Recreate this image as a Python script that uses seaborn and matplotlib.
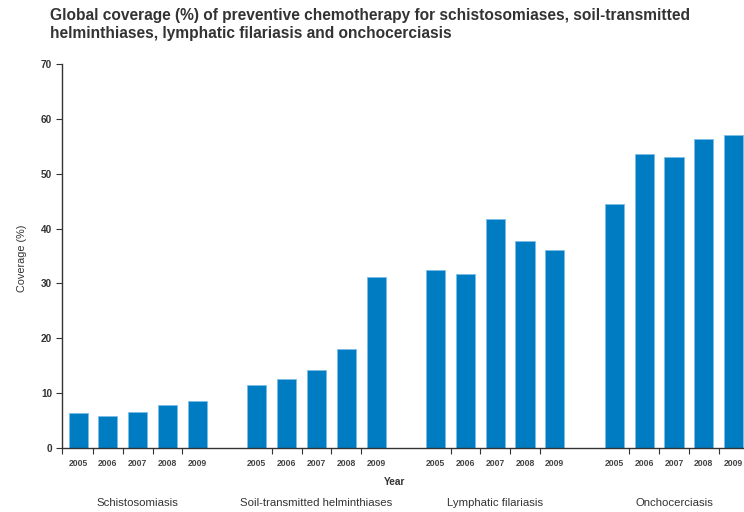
import numpy as np
import pandas as pd
import matplotlib
matplotlib.use("Agg")
import matplotlib.pyplot as plt
import seaborn as sns

diseases = ["Schistosomiasis", "Soil-transmitted helminthiases",
            "Lymphatic filariasis", "Onchocerciasis"]
years = ["2005", "2006", "2007", "2008", "2009"]
schisto = [6.3, 5.8, 6.5, 7.9, 8.6]
sth = [11.5, 12.6, 14.2, 18.0, 31.2]
lf = [32.4, 31.8, 41.8, 37.8, 36.1]
oncho = [44.5, 53.6, 53.1, 56.4, 57.1]
y_ticks = [0, 10, 20, 30, 40, 50, 60, 70]

title = ("Global coverage (%) of preventive chemotherapy for schistosomiases, soil-transmitted\n"
         "helminthiases, lymphatic filariasis and onchocerciasis")

rows = []
for gi, (d, vals) in enumerate(zip(diseases, [schisto, sth, lf, oncho])):
    for yi, (yr, v) in enumerate(zip(years, vals)):
        rows.append(dict(disease=d, year=yr, coverage=v, pos=gi * 6 + yi))
df = pd.DataFrame(rows)

sns.set_theme(style="white")
plt.rcParams["font.family"] = ["Liberation Sans", "DejaVu Sans"]

TXT = "#333333"
fig = plt.figure(figsize=(7.44, 5.12), dpi=100)
ax = fig.add_axes([62 / 744, 64 / 512, 682 / 744, 384 / 512])

sns.barplot(data=df, x="pos", y="coverage", native_scale=True, color="#007CC3",
            saturation=1, width=0.64, edgecolor="#7DBDE6", linewidth=0.6,
            errorbar=None, ax=ax)

xl = -0.54
ax.set_xlim(xl, 22.35)
ax.set_ylim(0, 70)
ax.set_yticks(y_ticks)
ax.set_yticklabels([str(t) for t in y_ticks], fontsize=7.2, fontweight="bold", color=TXT)
ax.tick_params(axis="y", direction="out", length=4, width=0.8, color=TXT, pad=3, left=True)

ax.set_xticks(df["pos"].tolist())
ax.set_xticklabels(df["year"].tolist(), fontsize=6.2, fontweight="bold", color="#444444")
ax.tick_params(axis="x", which="major", length=0, pad=8)
minor = [xl] + [gi * 6 + yi + 0.5 for gi in range(4) for yi in range(4)]
ax.set_xticks(minor, minor=True)
ax.tick_params(axis="x", which="minor", direction="out", length=4, width=0.8,
               color=TXT, bottom=True)

for s in ["top", "right"]:
    ax.spines[s].set_visible(False)
for s in ["left", "bottom"]:
    ax.spines[s].set_color(TXT)
    ax.spines[s].set_linewidth(1.0)

ax.set_xlabel("")
ax.set_ylabel("")

for gi, d in enumerate(diseases):
    ax.text(gi * 6 + 2, -(503 - 448) / 384, d, transform=ax.get_xaxis_transform(),
            ha="center", va="center", fontsize=8.2, color=TXT)

ax.text((395 - 62) / 682, -(482 - 448) / 384, "Year", transform=ax.transAxes,
        ha="center", va="center", fontsize=7.3, fontweight="bold", color=TXT)

fig.text(22 / 744, (512 - 258) / 512, "Coverage (%)", rotation=90, ha="center",
         va="center", fontsize=7.8, color=TXT)

fig.text(50 / 744, 1 - 8 / 512, title, ha="left", va="top", fontsize=11.2,
         fontweight="bold", color=TXT, linespacing=1.22)

fig.savefig("out.png", dpi=100)
